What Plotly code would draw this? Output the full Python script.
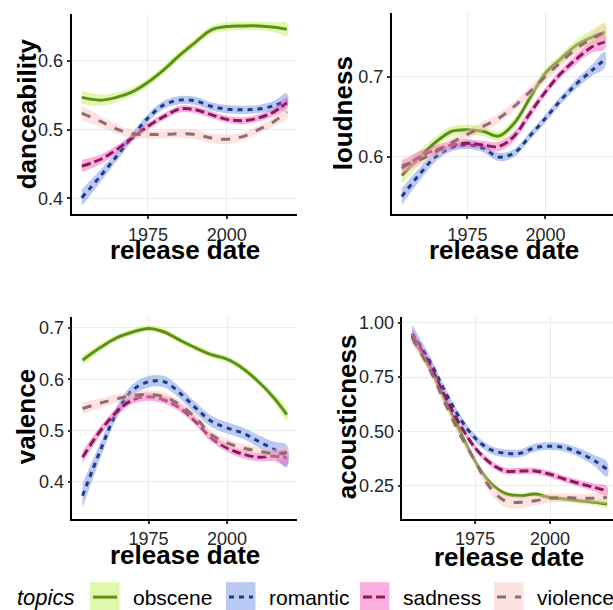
import plotly.graph_objects as go

# ---------------- data ----------------
YEARS = [1954, 1960, 1965, 1970, 1975, 1980, 1985, 1990, 1995, 2000, 2005, 2010, 2015, 2019]
TOPICS = ["obscene", "romantic", "sadness", "violence"]
FEATURES = ["danceability", "loudness", "valence", "acousticness"]
X_TICKS = [1975, 2000]
Y_TICKS_DANCE = [0.4, 0.5, 0.6]
Y_TICKS_LOUD = [0.6, 0.7]
Y_TICKS_VAL = [0.4, 0.5, 0.6, 0.7]
Y_TICKS_ACOUS = [0.25, 0.50, 0.75, 1.00]

danceability_obscene = [0.547, 0.543, 0.547, 0.555, 0.569, 0.587, 0.608, 0.627, 0.645, 0.650, 0.651, 0.651, 0.649, 0.646]
danceability_romantic = [0.401, 0.433, 0.461, 0.490, 0.517, 0.536, 0.543, 0.542, 0.534, 0.530, 0.529, 0.530, 0.535, 0.542]
danceability_sadness = [0.447, 0.457, 0.471, 0.488, 0.505, 0.519, 0.530, 0.529, 0.522, 0.515, 0.513, 0.517, 0.526, 0.539]
danceability_violence = [0.524, 0.512, 0.501, 0.494, 0.493, 0.493, 0.494, 0.493, 0.488, 0.486, 0.490, 0.500, 0.512, 0.526]

loudness_obscene = [0.577, 0.601, 0.619, 0.632, 0.634, 0.632, 0.626, 0.642, 0.673, 0.704, 0.722, 0.739, 0.749, 0.755]
loudness_romantic = [0.551, 0.580, 0.601, 0.612, 0.615, 0.611, 0.600, 0.605, 0.626, 0.648, 0.671, 0.691, 0.708, 0.721]
loudness_sadness = [0.586, 0.601, 0.609, 0.615, 0.617, 0.615, 0.613, 0.626, 0.654, 0.681, 0.704, 0.722, 0.737, 0.743]
loudness_violence = [0.589, 0.597, 0.607, 0.618, 0.628, 0.638, 0.648, 0.663, 0.681, 0.700, 0.718, 0.735, 0.747, 0.755]

valence_obscene = [0.637, 0.663, 0.681, 0.692, 0.699, 0.692, 0.676, 0.661, 0.648, 0.639, 0.621, 0.595, 0.563, 0.531]
valence_romantic = [0.373, 0.466, 0.537, 0.579, 0.595, 0.595, 0.573, 0.544, 0.518, 0.505, 0.495, 0.479, 0.463, 0.450]
valence_sadness = [0.448, 0.502, 0.537, 0.560, 0.566, 0.560, 0.544, 0.518, 0.486, 0.466, 0.454, 0.448, 0.450, 0.447]
valence_violence = [0.543, 0.554, 0.562, 0.568, 0.570, 0.566, 0.550, 0.525, 0.492, 0.476, 0.466, 0.460, 0.455, 0.457]

acousticness_obscene = [0.935, 0.790, 0.645, 0.500, 0.364, 0.265, 0.215, 0.204, 0.212, 0.196, 0.189, 0.181, 0.174, 0.166]
acousticness_romantic = [0.950, 0.820, 0.683, 0.560, 0.470, 0.417, 0.400, 0.400, 0.425, 0.432, 0.425, 0.400, 0.364, 0.326]
acousticness_sadness = [0.942, 0.805, 0.660, 0.531, 0.425, 0.356, 0.318, 0.318, 0.318, 0.303, 0.280, 0.260, 0.242, 0.227]
acousticness_violence = [0.930, 0.782, 0.630, 0.486, 0.364, 0.242, 0.181, 0.174, 0.181, 0.193, 0.196, 0.193, 0.193, 0.196]

# ribbon half-widths (standard-error bands)
danceability_obscene_se = [0.010, 0.008, 0.007, 0.006, 0.006, 0.006, 0.006, 0.006, 0.006, 0.006, 0.006, 0.006, 0.007, 0.010]
danceability_romantic_se = [0.012, 0.009, 0.007, 0.006, 0.006, 0.006, 0.006, 0.006, 0.006, 0.006, 0.006, 0.006, 0.007, 0.011]
danceability_sadness_se = [0.009, 0.007, 0.006, 0.005, 0.005, 0.005, 0.005, 0.005, 0.005, 0.005, 0.005, 0.005, 0.006, 0.008]
danceability_violence_se = [0.010, 0.008, 0.007, 0.006, 0.006, 0.006, 0.006, 0.007, 0.007, 0.007, 0.006, 0.006, 0.007, 0.010]

loudness_obscene_se = [0.010, 0.008, 0.007, 0.006, 0.006, 0.006, 0.006, 0.006, 0.006, 0.006, 0.006, 0.007, 0.009, 0.012]
loudness_romantic_se = [0.010, 0.008, 0.006, 0.005, 0.005, 0.005, 0.005, 0.005, 0.005, 0.005, 0.005, 0.006, 0.007, 0.010]
loudness_sadness_se = [0.009, 0.007, 0.006, 0.005, 0.005, 0.005, 0.006, 0.006, 0.006, 0.005, 0.005, 0.006, 0.007, 0.009]
loudness_violence_se = [0.009, 0.007, 0.006, 0.006, 0.006, 0.006, 0.006, 0.006, 0.006, 0.006, 0.006, 0.006, 0.007, 0.010]

valence_obscene_se = [0.010, 0.007, 0.006, 0.006, 0.006, 0.006, 0.006, 0.006, 0.006, 0.006, 0.006, 0.006, 0.008, 0.012]
valence_romantic_se = [0.024, 0.015, 0.012, 0.011, 0.011, 0.011, 0.011, 0.011, 0.011, 0.011, 0.011, 0.012, 0.015, 0.022]
valence_sadness_se = [0.012, 0.009, 0.008, 0.008, 0.008, 0.008, 0.008, 0.008, 0.008, 0.008, 0.008, 0.008, 0.010, 0.015]
valence_violence_se = [0.012, 0.009, 0.008, 0.008, 0.008, 0.008, 0.008, 0.008, 0.008, 0.008, 0.008, 0.008, 0.009, 0.012]

acousticness_obscene_se = [0.025, 0.018, 0.015, 0.013, 0.012, 0.012, 0.012, 0.012, 0.012, 0.012, 0.012, 0.012, 0.013, 0.016]
acousticness_romantic_se = [0.040, 0.025, 0.020, 0.018, 0.018, 0.018, 0.018, 0.018, 0.018, 0.018, 0.018, 0.020, 0.025, 0.035]
acousticness_sadness_se = [0.030, 0.020, 0.017, 0.015, 0.015, 0.015, 0.015, 0.015, 0.015, 0.015, 0.015, 0.016, 0.018, 0.022]
acousticness_violence_se = [0.030, 0.020, 0.018, 0.018, 0.020, 0.025, 0.030, 0.028, 0.022, 0.020, 0.020, 0.020, 0.022, 0.025]

# ---------------- styles ----------------
LINE_COLORS = ["#5e8f1b", "#1f3a8a", "#8b1a5d", "#8d6d6d"]
FILL_COLORS = ["rgba(186,240,70,0.45)", "rgba(100,135,225,0.45)",
               "rgba(243,80,185,0.45)", "rgba(250,190,190,0.45)"]
DASHES = ["solid", "5px,5px", "9px,4px", "9px,9px"]

W, H = 613, 610
def px(x):
    return x / W
def py(y):
    return (H - y) / H

values = {
    "danceability": [danceability_obscene, danceability_romantic, danceability_sadness, danceability_violence],
    "loudness": [loudness_obscene, loudness_romantic, loudness_sadness, loudness_violence],
    "valence": [valence_obscene, valence_romantic, valence_sadness, valence_violence],
    "acousticness": [acousticness_obscene, acousticness_romantic, acousticness_sadness, acousticness_violence],
}
bands = {
    "danceability": [danceability_obscene_se, danceability_romantic_se, danceability_sadness_se, danceability_violence_se],
    "loudness": [loudness_obscene_se, loudness_romantic_se, loudness_sadness_se, loudness_violence_se],
    "valence": [valence_obscene_se, valence_romantic_se, valence_sadness_se, valence_violence_se],
    "acousticness": [acousticness_obscene_se, acousticness_romantic_se, acousticness_sadness_se, acousticness_violence_se],
}

# panel geometry in pixels: (left, right, top, bottom), axis ranges
panels = {
    "danceability": dict(box=(71.5, 297, 10, 211.7), xr=[1950.75, 2022.25], yr=[0.3769, 0.6684],
                         yt=Y_TICKS_DANCE, fmt=".1f", ytitle=(27, 111), xtitle=(185, 248)),
    "loudness": dict(box=(391.7, 613, 9.3, 211.7), xr=[1950.75, 2021.65], yr=[0.5288, 0.7786],
                     yt=Y_TICKS_LOUD, fmt=".1f", ytitle=(343, 110), xtitle=(504, 248)),
    "valence": dict(box=(72.3, 297, 315, 518.3), xr=[1950.75, 2022.25], yr=[0.3278, 0.7213],
                    yt=Y_TICKS_VAL, fmt=".1f", ytitle=(26, 416), xtitle=(185, 555)),
    "acousticness": dict(box=(402.3, 613, 315, 518.3), xr=[1950.75, 2021.0], yr=[0.098, 1.026],
                         yt=Y_TICKS_ACOUS, fmt=".2f", ytitle=(347, 416), xtitle=(509, 557)),
}

FONT = "Liberation Sans, Arial, sans-serif"
fig = go.Figure()
annotations = []
shapes = []

for i, feat in enumerate(FEATURES):
    sfx = "" if i == 0 else str(i + 1)
    xa, ya = "x" + sfx, "y" + sfx
    p = panels[feat]
    for t, topic in enumerate(TOPICS):
        yv = values[feat][t]
        se = bands[feat][t]
        upper = [v + s for v, s in zip(yv, se)]
        lower = [v - s for v, s in zip(yv, se)]
        fig.add_trace(go.Scatter(
            x=YEARS + YEARS[::-1], y=upper + lower[::-1],
            fill="toself", fillcolor=FILL_COLORS[t], mode="lines",
            line=dict(width=0, shape="spline", smoothing=1.0),
            hoverinfo="skip", showlegend=False, xaxis=xa, yaxis=ya))
        fig.add_trace(go.Scatter(
            x=YEARS, y=yv, mode="lines", name=topic,
            line=dict(color=LINE_COLORS[t], width=3, dash=DASHES[t], shape="spline", smoothing=1.0),
            showlegend=False, xaxis=xa, yaxis=ya))
    l, r, tp, b = p["box"]
    axcommon = dict(showline=True, linecolor="black", linewidth=1.5, ticks="outside",
                    ticklen=3, tickwidth=1.5, tickcolor="#333333",
                    showgrid=True, gridcolor="#ebebeb", gridwidth=1.3, zeroline=False,
                    tickfont=dict(family=FONT, size=18, color="#262626"))
    fig.layout["xaxis" + sfx] = dict(domain=[px(l), min(1.0, px(r))], range=p["xr"],
                                     anchor=ya, tickvals=X_TICKS, **axcommon)
    fig.layout["yaxis" + sfx] = dict(domain=[py(b), py(tp)], range=p["yr"], anchor=xa,
                                     tickvals=p["yt"], tickformat=p["fmt"], **axcommon)
    annotations.append(dict(text="<b>%s</b>" % feat, x=px(p["ytitle"][0]), y=py(p["ytitle"][1]),
                            xref="paper", yref="paper", textangle=-90, showarrow=False,
                            xanchor="center", yanchor="middle",
                            font=dict(family=FONT, size=26, color="black")))
    annotations.append(dict(text="<b>release date</b>", x=px(p["xtitle"][0]), y=py(p["xtitle"][1]),
                            xref="paper", yref="paper", showarrow=False,
                            xanchor="center", yanchor="middle",
                            font=dict(family=FONT, size=26, color="black")))

# ---------------- legend (bottom) ----------------
annotations.append(dict(text="<i>topics</i>", x=px(15), y=py(597), xref="paper", yref="paper",
                        showarrow=False, xanchor="left", yanchor="middle",
                        font=dict(family=FONT, size=22, color="black")))
KEY_X = [90, 226, 360, 494]
for t, topic in enumerate(TOPICS):
    x0 = KEY_X[t]
    shapes.append(dict(type="rect", xref="paper", yref="paper",
                       x0=px(x0), x1=px(x0 + 29.5), y0=py(582), y1=py(612),
                       fillcolor=FILL_COLORS[t], line=dict(width=0), layer="above"))
    shapes.append(dict(type="line", xref="paper", yref="paper",
                       x0=px(x0 + 3), x1=px(x0 + 27), y0=py(597), y1=py(597),
                       line=dict(color=LINE_COLORS[t], width=3, dash=DASHES[t]), layer="above"))
    annotations.append(dict(text=topic, x=px(x0 + 41), y=py(597), xref="paper", yref="paper",
                            showarrow=False, xanchor="left", yanchor="middle",
                            font=dict(family=FONT, size=21, color="black")))

fig.update_layout(width=W, height=H, margin=dict(l=0, r=0, t=0, b=0),
                  paper_bgcolor="white", plot_bgcolor="white",
                  showlegend=False, annotations=annotations, shapes=shapes,
                  font=dict(family=FONT))

fig.write_html("out.html", config={"displayModeBar": False},
               post_script="document.body.style.margin='0';document.body.style.overflow='hidden';")
